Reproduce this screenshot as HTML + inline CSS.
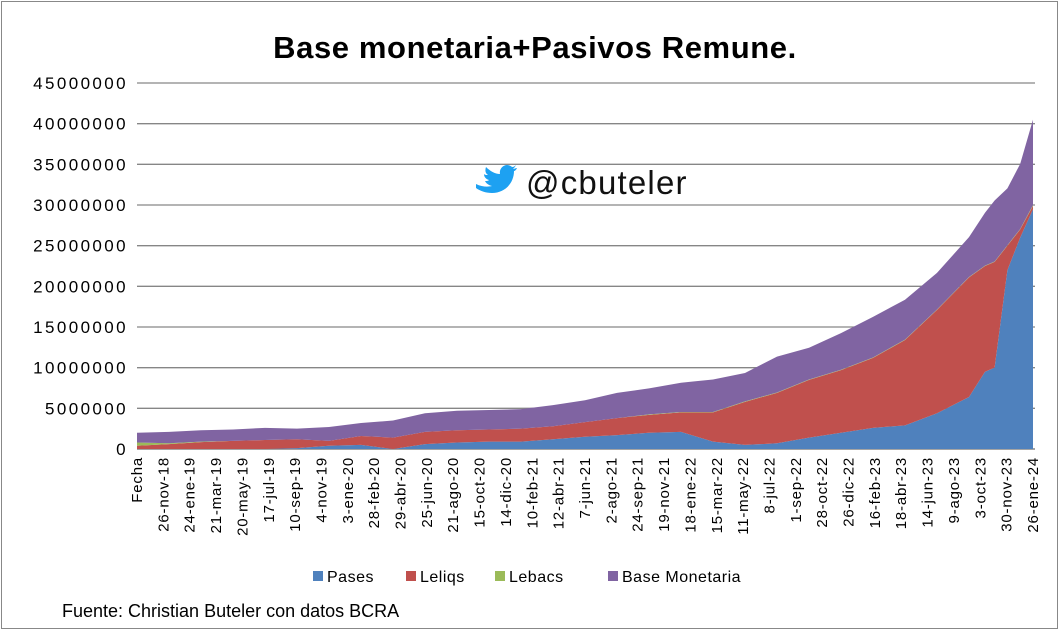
<!DOCTYPE html>
<html><head><meta charset="utf-8"><style>
body{margin:0;background:#fff;width:1060px;height:631px;overflow:hidden;font-family:"Liberation Sans",Arial,sans-serif}
svg{display:block}
</style></head><body>
<svg id="chart" width="1060" height="631">
<rect x="1.5" y="1.5" width="1056" height="627" fill="#fff" stroke="#888"/>
<text x="535" y="58" text-anchor="middle" font-size="31" font-weight="bold" letter-spacing="0.6" fill="#000">Base monetaria+Pasivos Remune.</text>
<g id="grid"></g><g id="areas"></g><g id="yticks"></g><g id="xticks"></g>
<g>
<rect x="462" y="165" width="230" height="39" fill="#fff"/>
<path d="M476 184 c6 3 12 3 16 2 c-4 -1 -6 -3 -7 -5 c2 0 3 0 4 -1 c-3 -1 -5 -3 -5 -6 c1 1 2 1 4 1 c-3 -2 -3 -5 -2 -8 c4 4 9 7 14 7 c-1 -5 3 -9 7 -9 c2 0 4 1 5 2 c2 0 3 -1 4 -2 c-1 2 -2 3 -3 4 c1 0 3 -1 4 -1 c-1 2 -2 3 -3 3 c0 12 -9 22 -22 22 c-6 0 -12 -2 -16 -5 z" fill="#1da1f2"/>
<text x="526" y="194" font-size="33" letter-spacing="1.2" fill="#111">@cbuteler</text>
</g>
<g id="legend"></g>
<text x="62" y="617" font-size="18" fill="#000">Fuente: Christian Buteler con datos BCRA</text>
</svg>
<script>
const dateLabels=["Fecha","26-nov-18","24-ene-19","21-mar-19","20-may-19","17-jul-19","10-sep-19","4-nov-19","3-ene-20","28-feb-20","29-abr-20","25-jun-20","21-ago-20","15-oct-20","14-dic-20","10-feb-21","12-abr-21","7-jun-21","2-ago-21","24-sep-21","19-nov-21","18-ene-22","15-mar-22","11-may-22","8-jul-22","1-sep-22","28-oct-22","26-dic-22","16-feb-23","18-abr-23","14-jun-23","9-ago-23","3-oct-23","30-nov-23","26-ene-24"];
const yTicks=[0,5000000,10000000,15000000,20000000,25000000,30000000,35000000,40000000,45000000];
const timeIdx=[0,1,2,3,4,5,6,7,8,9,10,11,12,13,14,15,16,17,18,19,20,21,22,23,24,25,26,26.5,26.8,27.2,27.6,28];
const pases=[0,0,0,0,0,0.1,0.4,0.5,0,0.6,0.8,0.9,0.9,1.2,1.5,1.7,2.0,2.1,0.9,0.5,0.7,1.4,2.0,2.6,2.9,4.4,6.4,9.5,10,22,26,29.5];
const leliqs=[0.4,0.6,0.85,1.0,1.1,1.1,0.6,1.1,1.4,1.5,1.5,1.5,1.6,1.6,1.8,2.1,2.2,2.4,3.6,5.3,6.2,7.1,7.7,8.6,10.5,12.7,14.7,13.0,13.0,3,1,0.4];
const lebacs=[0.4,0.1,0.05,0,0,0,0,0,0,0,0,0,0,0,0,0,0.05,0.05,0.05,0.05,0.05,0.05,0.05,0.05,0.05,0.05,0.05,0.05,0.05,0.05,0.05,0.1];
const baseMon=[1.2,1.4,1.4,1.4,1.5,1.3,1.7,1.6,2.1,2.3,2.4,2.4,2.4,2.6,2.7,3.1,3.2,3.6,4.0,3.5,4.4,3.9,4.5,5.0,4.9,4.5,4.9,6.5,7.5,7,8,10.5];
const seriesNames=["Pases","Leliqs","Lebacs","Base Monetaria"];
const colors=["#4f81bd","#c0504d","#9bbb59","#8064a2"];
const NS="http://www.w3.org/2000/svg";
const X0=137,X1=1033,Y0=449,Y1=83,maxT=28,maxV=45000000;
const xS=t=>X0+(X1-X0)*t/maxT;
const yS=v=>Y0-(Y0-Y1)*v/maxV;
function mk(tag,attrs,parent){const e=document.createElementNS(NS,tag);for(const k in attrs)e.setAttribute(k,attrs[k]);parent.appendChild(e);return e;}
const grid=document.getElementById('grid'),yt=document.getElementById('yticks');
yTicks.forEach(v=>{
  if(v>0){const l=mk('line',{x1:X0,x2:X1+2,y1:yS(v),y2:yS(v),stroke:'#868686','stroke-width':1.3},grid);
  
  }
  const t=mk('text',{x:128,y:yS(v)+6,'text-anchor':'end','font-size':17,'letter-spacing':2.4,fill:'#000'},yt);
  t.textContent=v;
  
  
});
const ax=mk('line',{x1:X0,x2:X1+2,y1:Y0,y2:Y0,stroke:'#868686','stroke-width':1.5},grid);


const data=[pases,leliqs,lebacs,baseMon];
const areas=document.getElementById('areas');
let base=timeIdx.map(()=>0);
data.forEach((s,si)=>{
  const top=base.map((b,i)=>b+s[i]*1e6);
  let d='M'+timeIdx.map((t,i)=>xS(t)+','+yS(top[i])).join(' L');
  for(let i=timeIdx.length-1;i>=0;i--)d+=' L'+xS(timeIdx[i])+','+yS(base[i]);
  const p=mk('path',{d:d+'Z',fill:colors[si]},areas);
  
  
  base=top;
});
const xt=document.getElementById('xticks');
const step=(X1-X0)/(dateLabels.length-1);
dateLabels.forEach((lab,i)=>{
  const x=X0+step*i+5;
  const t=mk('text',{transform:`translate(${x},457) rotate(-90)`,'text-anchor':'end','font-size':15,'letter-spacing':0.8,fill:'#000'},xt);
  t.textContent=lab;
  
  
});
const lg=document.getElementById('legend');
const lx=[313,406,495,608];
seriesNames.forEach((n,i)=>{
  const g=mk('g',{},lg);
  
  
  mk('rect',{x:lx[i],y:571,width:10,height:10,fill:colors[i]},g);
  const t=mk('text',{x:lx[i]+14,y:582,'font-size':16,'letter-spacing':0.5,fill:'#000'},g);
  t.textContent=n;
});
</script>
</body></html>
